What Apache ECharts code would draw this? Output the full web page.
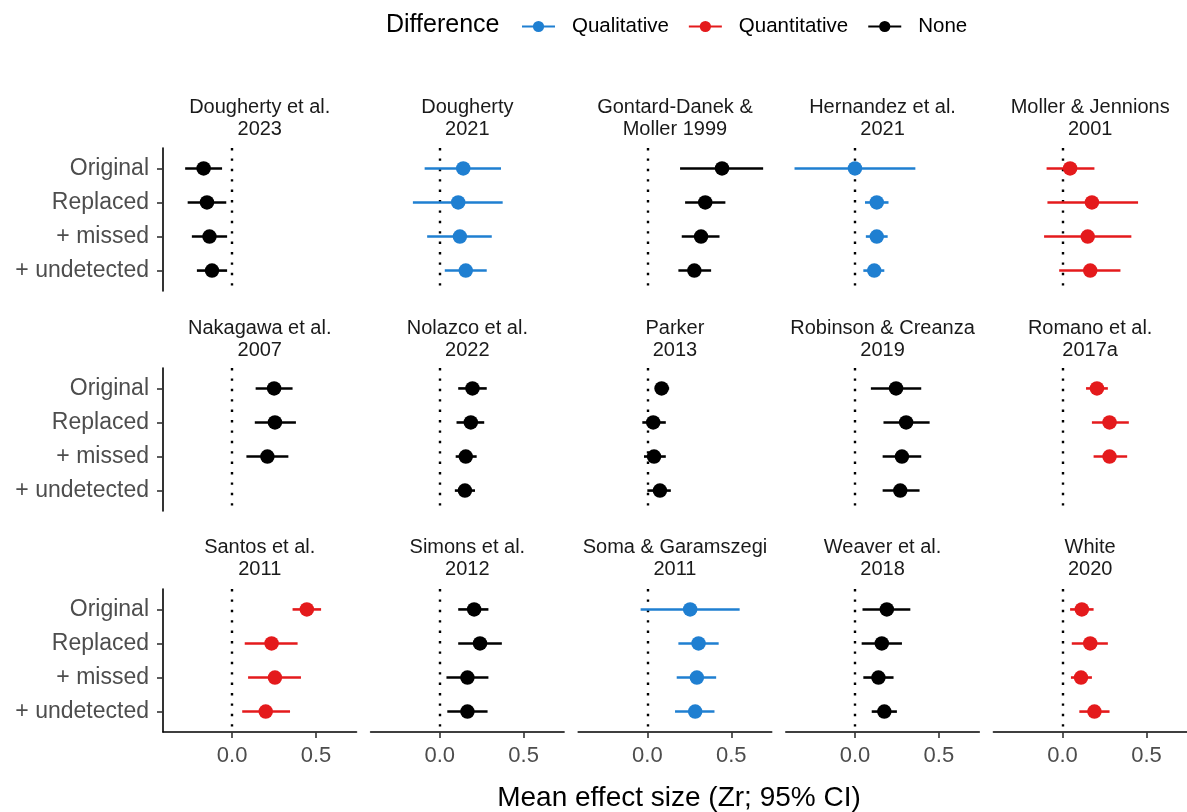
<!DOCTYPE html>
<html>
<head>
<meta charset="utf-8">
<script src="https://cdn.jsdelivr.net/npm/echarts@6/dist/echarts.min.js"></script>
<style>
  html, body { margin: 0; background: #fff; }
  #main { width: 1187px; height: 812px; }
</style>
</head>
<body>
<div id="main"></div>
<script>
// rows inside every panel (top to bottom)
const rowLabels = ['Original', 'Replaced', '+ missed', '+ undetected'];

// facet titles, left to right, top to bottom
const studies = [
  'Dougherty et al.\n2023', 'Dougherty\n2021', 'Gontard-Danek &\nMoller 1999', 'Hernandez et al.\n2021', 'Moller & Jennions\n2001',
  'Nakagawa et al.\n2007', 'Nolazco et al.\n2022', 'Parker\n2013', 'Robinson & Creanza\n2019', 'Romano et al.\n2017a',
  'Santos et al.\n2011', 'Simons et al.\n2012', 'Soma & Garamszegi\n2011', 'Weaver et al.\n2018', 'White\n2020'
];

// kind of difference for each study
const difference = [
  'None', 'Qualitative', 'None', 'Qualitative', 'Quantitative',
  'None', 'None', 'None', 'None', 'Quantitative',
  'Quantitative', 'None', 'Qualitative', 'None', 'Quantitative'
];

// mean effect size (Zr), one array per study, in rowLabels order
const estimates = [
  [-0.17, -0.15, -0.135, -0.12],
  [0.14, 0.11, 0.12, 0.155],
  [0.445, 0.345, 0.32, 0.28],
  [0.0, 0.13, 0.13, 0.115],
  [0.045, 0.175, 0.15, 0.165],
  [0.25, 0.255, 0.21, null],
  [0.195, 0.185, 0.155, 0.15],
  [0.085, 0.035, 0.04, 0.075],
  [0.245, 0.305, 0.28, 0.27],
  [0.205, 0.28, 0.28, null],
  [0.445, 0.235, 0.255, 0.2],
  [0.205, 0.24, 0.165, 0.165],
  [0.255, 0.305, 0.295, 0.285],
  [0.19, 0.16, 0.14, 0.175],
  [0.115, 0.165, 0.11, 0.19]
];

// lower 95% CI
const lowerCI = [
  [-0.28, -0.265, -0.24, -0.21],
  [-0.09, -0.16, -0.075, 0.03],
  [0.195, 0.225, 0.205, 0.185],
  [-0.36, 0.06, 0.065, 0.05],
  [-0.095, -0.09, -0.11, -0.02],
  [0.14, 0.135, 0.085, null],
  [0.11, 0.1, 0.095, 0.09],
  [0.045, -0.03, -0.02, 0.0],
  [0.095, 0.17, 0.165, 0.165],
  [0.14, 0.175, 0.185, null],
  [0.36, 0.075, 0.095, 0.06],
  [0.11, 0.11, 0.04, 0.045],
  [-0.04, 0.185, 0.175, 0.165],
  [0.045, 0.04, 0.05, 0.1],
  [0.045, 0.055, 0.05, 0.1]
];

// upper 95% CI
const upperCI = [
  [-0.06, -0.035, -0.03, -0.03],
  [0.365, 0.375, 0.31, 0.28],
  [0.69, 0.465, 0.43, 0.38],
  [0.36, 0.2, 0.195, 0.175],
  [0.19, 0.45, 0.41, 0.345],
  [0.36, 0.38, 0.335, null],
  [0.28, 0.265, 0.22, 0.21],
  [0.13, 0.11, 0.11, 0.14],
  [0.395, 0.445, 0.395, 0.385],
  [0.27, 0.395, 0.385, null],
  [0.53, 0.39, 0.41, 0.345],
  [0.29, 0.37, 0.29, 0.285],
  [0.55, 0.425, 0.41, 0.4],
  [0.33, 0.28, 0.23, 0.25],
  [0.185, 0.27, 0.175, 0.28]
];

const xTicks = [0, 0.5];
const groupNames = ['Qualitative', 'Quantitative', 'None'];
const groupColors = { Qualitative: '#1f7fd1', Quantitative: '#e41a1c', None: '#000000' };

const FONT = '"Liberation Sans", Arial, Helvetica, sans-serif';
const xMin = -0.412, xMax = 0.741;
const colLeft = 163, colStep = 207.6, panelW = 193.5;
const rowTops = [148, 368, 589], panelH = 143;
const stripTops = [96, 317, 536];

const chart = echarts.init(document.getElementById('main'));

const grid = [], xAxis = [], yAxis = [], series = [];
const title = [
  { text: 'Difference', left: 386, top: 11, padding: 0,
    textStyle: { fontFamily: FONT, fontSize: 25, fontWeight: 'normal', color: '#000', lineHeight: 28 } },
  { text: 'Mean effect size (Zr; 95% CI)', left: 679, top: 782, padding: 0, textAlign: 'center',
    textStyle: { fontFamily: FONT, fontSize: 28, fontWeight: 'normal', color: '#000', lineHeight: 32 } }
];

studies.forEach((name, i) => {
  const r = Math.floor(i / 5), c = i % 5;
  const left = colLeft + c * colStep;
  const color = groupColors[difference[i]];

  grid.push({ left: left, top: rowTops[r], width: panelW, height: panelH, outerBoundsMode: 'none' });

  title.push({
    text: name, left: left + panelW / 2, top: stripTops[r], padding: 0, textAlign: 'center',
    textStyle: { fontFamily: FONT, fontSize: 20, fontWeight: 'normal', color: '#1a1a1a', lineHeight: 22 }
  });

  const bottomRow = r === 2, firstCol = c === 0;
  xAxis.push({
    type: 'value', gridIndex: i, min: xMin, max: xMax,
    axisLine: { show: bottomRow, onZero: false, lineStyle: { color: '#000', width: 1.6 } },
    axisTick: { show: bottomRow, customValues: xTicks, length: 6, lineStyle: { color: '#333', width: 1.6 } },
    axisLabel: { show: bottomRow, customValues: xTicks, formatter: v => v.toFixed(1),
      color: '#4d4d4d', fontSize: 22, fontFamily: FONT, margin: 13 },
    splitLine: { show: false }
  });
  yAxis.push({
    type: 'value', gridIndex: i, min: 0.4, max: 4.6, inverse: true,
    axisLine: { show: firstCol, onZero: false, lineStyle: { color: '#000', width: 1.6 } },
    axisTick: { show: firstCol, customValues: [1, 2, 3, 4], length: 6, lineStyle: { color: '#333', width: 1.6 } },
    axisLabel: { show: firstCol, customValues: [1, 2, 3, 4], formatter: v => rowLabels[Math.round(v) - 1],
      color: '#4d4d4d', fontSize: 23, fontFamily: FONT, margin: 14 },
    splitLine: { show: false }
  });

  const bars = [], pts = [];
  rowLabels.forEach((lab, k) => {
    if (estimates[i][k] == null) return;
    bars.push([lowerCI[i][k], k + 1, upperCI[i][k]]);
    pts.push([estimates[i][k], k + 1]);
  });

  // CI whiskers
  series.push({
    type: 'custom', name: name + ' CI', xAxisIndex: i, yAxisIndex: i, silent: true, z: 3,
    data: bars,
    renderItem: (params, api) => {
      const a = api.coord([api.value(0), api.value(1)]);
      const b = api.coord([api.value(2), api.value(1)]);
      return { type: 'line', shape: { x1: a[0], y1: a[1], x2: b[0], y2: b[1] },
        style: { stroke: color, lineWidth: 2.6 } };
    }
  });
  // mean estimates + dotted zero line
  series.push({
    type: 'scatter', name: name, xAxisIndex: i, yAxisIndex: i, silent: true, z: 4,
    symbolSize: 14.5, itemStyle: { color: color, opacity: 1 },
    data: pts,
    markLine: {
      silent: true, symbol: 'none', label: { show: false }, z: 1,
      lineStyle: { color: '#000', width: 2.4, type: [2.4, 8], opacity: 1 },
      emphasis: { disabled: true },
      data: [{ xAxis: 0 }]
    }
  });
});

// legend-only series
groupNames.forEach(g => {
  series.push({
    type: 'line', name: g, xAxisIndex: 0, yAxisIndex: 0, data: [],
    symbol: 'circle', symbolSize: 11,
    itemStyle: { color: groupColors[g] }, lineStyle: { color: groupColors[g], width: 2.6 }
  });
});

chart.setOption({
  animation: false,
  backgroundColor: '#fff',
  title: title,
  legend: {
    data: groupNames, left: 521, top: 16, padding: 0,
    itemWidth: 33, itemHeight: 14, itemGap: 19, selectedMode: false,
    textStyle: { fontFamily: FONT, fontSize: 20.5, color: '#000', padding: [0, 0, 0, 12] }
  },
  grid: grid,
  xAxis: xAxis,
  yAxis: yAxis,
  series: series
});
</script>
</body>
</html>
